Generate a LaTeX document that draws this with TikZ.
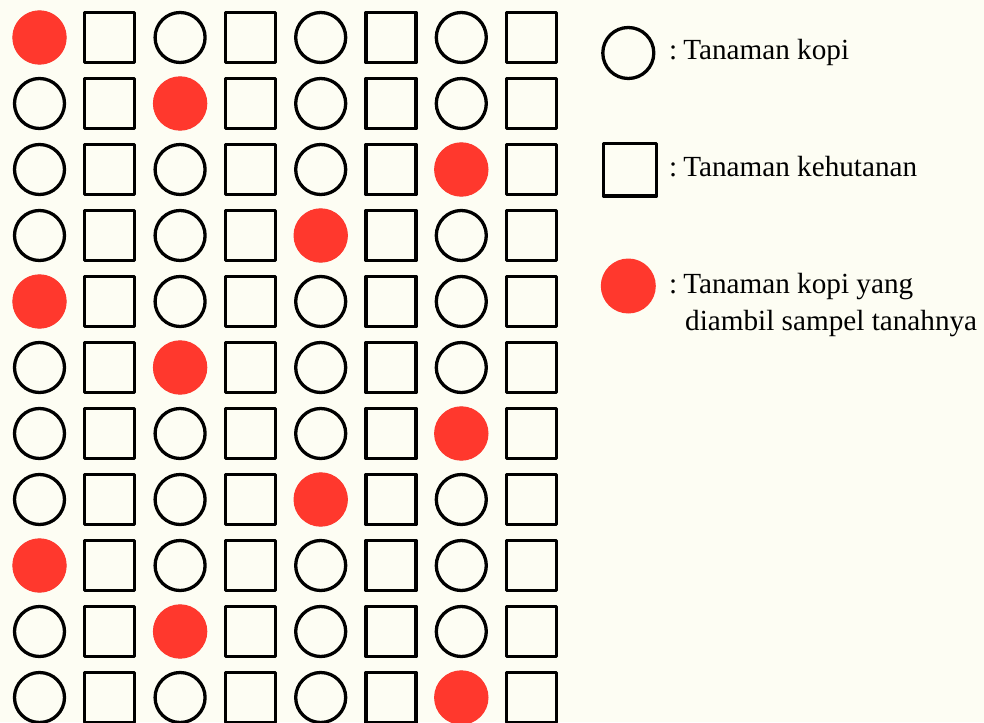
\documentclass[tikz,border=0pt]{standalone}
\usepackage{fontspec}
\setmainfont{Liberation Serif}
\definecolor{sampelred}{RGB}{255,56,45}
\definecolor{kertas}{RGB}{253,253,243}
\begin{document}
\begin{tikzpicture}[x=1pt, y=-1pt, line cap=round, line join=round, font=\fontsize{29.2}{37}\selectfont]
			\fill[kertas] (0,0) rectangle (984,722);
			\useasboundingbox (0,0) rectangle (984,722);
			\pgfmathsetmacro{\dx}{70.3}
			\pgfmathsetmacro{\dy}{66}
			% kopi dan kehutanan berselang-seling
			\foreach \r in {0,...,10} {
				\foreach \c in {0,...,3} {
					\draw[line width=3.3] ({39.5+2*\c*\dx}, {37.5+\r*\dy}) circle (25);
					\draw[line width=3.3] ({109.8+2*\c*\dx-25}, {12.5+\r*\dy}) rectangle +(50,50);
				}
			}
			% titik sampel tanah
			\foreach \r/\c in {0/0, 1/1, 2/3, 3/2, 4/0, 5/1, 6/3, 7/2, 8/0, 9/1, 10/3} {
				\fill[sampelred] ({39.5+2*\c*\dx}, {37.5+\r*\dy}) circle (27.2);
			}
			% keterangan
			\draw[line width=3.3] (628.3,53) circle (25.5);
			\draw[line width=3.3] (603.5,143.5) rectangle (656.5,196);
			\fill[sampelred] (628.3,286) circle (27.5);
			\node[anchor=base west, inner sep=0] (kopi) at (669,59.5) {:\hspace{6pt}Tanaman kopi};
			\node[anchor=base west, inner sep=0] (hutan) at (669,176.5) {:\hspace{6pt}Tanaman kehutanan};
			\node[anchor=base west, inner sep=0] (sampel) at (669,293) {:\hspace{6pt}Tanaman kopi yang};
			\node[anchor=base west, inner sep=0] (sampel2) at (685,330) {diambil sampel tanahnya};
		\end{tikzpicture}
\end{document}
